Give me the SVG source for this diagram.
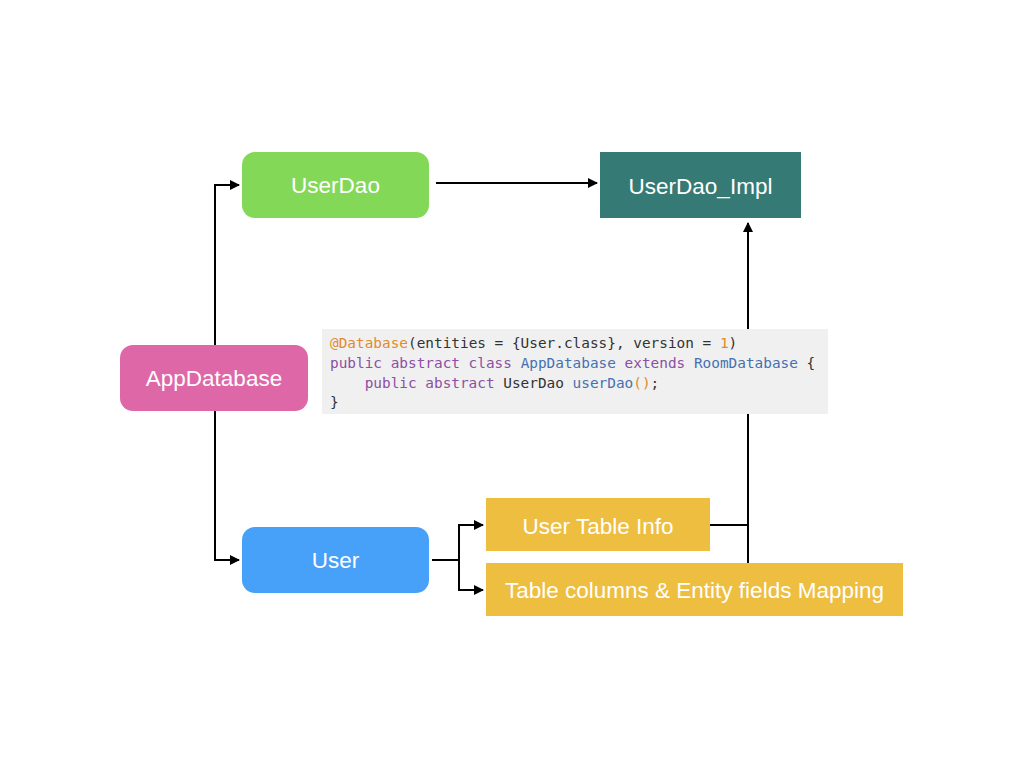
<svg xmlns="http://www.w3.org/2000/svg" width="1024" height="768" viewBox="0 0 1024 768">
<defs>
<marker id="arr" markerWidth="10" markerHeight="10" refX="9" refY="5" orient="auto" markerUnits="userSpaceOnUse">
<path d="M0,0 L10,5 L0,10 Z" fill="#000"/>
</marker>
<style>
.lbl{font-family:"Liberation Sans",Arial,sans-serif;font-size:22.5px;fill:#fff;text-anchor:middle;dominant-baseline:central}
.ln{fill:none;stroke:#000;stroke-width:2}
.code{font-family:"DejaVu Sans Mono","Liberation Mono",monospace;font-size:14.4px;fill:#333;white-space:pre}
.kw{fill:#8B4FA3}.ty{fill:#4670B0}.an{fill:#E28A2C}
</style>
</defs>
<rect width="1024" height="768" fill="#fff"/>
<g id="connectors">
<polyline class="ln" points="215,345 215,185 239,185" marker-end="url(#arr)"/>
<polyline class="ln" points="215,411 215,560 239,560" marker-end="url(#arr)"/>
<line class="ln" x1="436" y1="183" x2="597" y2="183" marker-end="url(#arr)"/>
<line class="ln" x1="432" y1="560" x2="459" y2="560"/>
<polyline class="ln" points="459,560 459,525 483,525" marker-end="url(#arr)"/>
<polyline class="ln" points="459,560 459,590 483,590" marker-end="url(#arr)"/>
<line class="ln" x1="710" y1="525" x2="748" y2="525"/>
<line class="ln" x1="748" y1="563" x2="748" y2="223" marker-end="url(#arr)"/>
</g>
<g id="UserDao"><rect x="242" y="152" width="187" height="66" rx="13" fill="#83D857"/><text class="lbl" x="335.5" y="185">UserDao</text></g>
<g id="UserDao_Impl"><rect x="600" y="152" width="201" height="66" fill="#367A76"/><text class="lbl" x="700.5" y="186">UserDao_Impl</text></g>
<g id="AppDatabase"><rect x="120" y="345" width="188" height="66" rx="13" fill="#DE67A8"/><text class="lbl" x="214" y="378">AppDatabase</text></g>
<g id="User"><rect x="242" y="527" width="187" height="66" rx="13" fill="#47A1F8"/><text class="lbl" x="335.5" y="560">User</text></g>
<g id="UserTableInfo"><rect x="486" y="498" width="224" height="53" fill="#EEBE41"/><text class="lbl" x="598" y="526">User Table Info</text></g>
<g id="Mapping"><rect x="486" y="563" width="417" height="53" fill="#EEBE41"/><text class="lbl" x="694.5" y="590">Table columns &amp; Entity fields Mapping</text></g>
<g id="code">
<rect x="322" y="329" width="506" height="85" fill="#F0F0F0"/>
<text class="code" x="330" y="348"><tspan class="an">@Database</tspan>(entities = {User.class}, version = <tspan class="an">1</tspan>)</text>
<text class="code" x="330" y="368"><tspan class="kw">public abstract class</tspan> <tspan class="ty">AppDatabase</tspan> <tspan class="kw">extends</tspan> <tspan class="ty">RoomDatabase</tspan> {</text>
<text class="code" x="330" y="388">    <tspan class="kw">public abstract</tspan> UserDao <tspan class="ty">userDao</tspan><tspan class="an">()</tspan>;</text>
<text class="code" x="330" y="407">}</text>
</g>
</svg>
